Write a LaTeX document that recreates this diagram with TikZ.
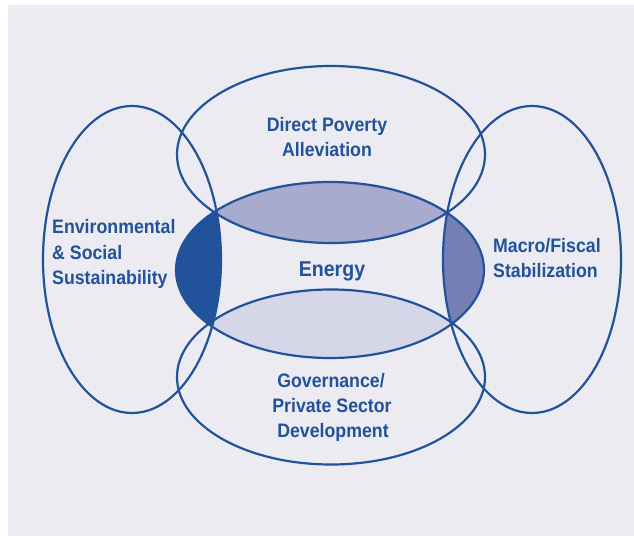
\documentclass[tikz,border=0pt]{standalone}
\usepackage{fontspec}
\newfontfamily\lblfont[FakeStretch=0.91]{Liberation Sans}
\definecolor{bgc}{HTML}{ECEBF2}
\definecolor{lineblue}{HTML}{22529A}
\definecolor{upperlens}{HTML}{A8AACE}
\definecolor{lowerlens}{HTML}{D5D7E9}
\definecolor{rightlens}{HTML}{7480B4}
\tikzset{
  outline/.style={draw=lineblue, line width=2.2bp},
  lbl/.style={text=lineblue, inner sep=0pt, font=\lblfont\bfseries\fontsize{19.5bp}{25bp}\selectfont},
  biglbl/.style={lbl, font=\lblfont\bfseries\fontsize{21.5bp}{25bp}\selectfont},
}
\def\pTop{(331,154.5) ellipse [x radius=154bp, y radius=88.5bp]}
\def\pEnergy{(330,270) ellipse [x radius=154bp, y radius=88bp]}
\def\pBottom{(331,377) ellipse [x radius=154bp, y radius=87.5bp]}
\def\pLeft{(132,259.5) ellipse [x radius=89bp, y radius=153.5bp]}
\def\pRight{(532,259.5) ellipse [x radius=89bp, y radius=153.5bp]}
\begin{document}
\begin{tikzpicture}[x=1bp,y=-1bp]
\useasboundingbox (0,0) rectangle (634,536);
\fill[white] (0,0) rectangle (634,536);
\fill[bgc] (8,5) rectangle (634,536);
% lens fills
\begin{scope}\clip \pEnergy; \fill[upperlens] \pTop; \end{scope}
\begin{scope}\clip \pEnergy; \fill[lowerlens] \pBottom; \end{scope}
\begin{scope}\clip \pEnergy; \fill[lineblue] \pLeft; \end{scope}
\begin{scope}\clip \pEnergy; \fill[rightlens] \pRight; \end{scope}
% outlines
\path[outline] \pTop;
\path[outline] \pBottom;
\path[outline] \pLeft;
\path[outline] \pRight;
\path[outline] \pEnergy;
% labels
\node[lbl, anchor=base] (dpa1) at (327,132) {Direct Poverty};
\node[lbl, anchor=base] (dpa2) at (327,157) {Alleviation};
\node[lbl, anchor=base] (gov1) at (331,387) {Governance/};
\node[lbl, anchor=base] (gov2) at (332,412) {Private Sector};
\node[lbl, anchor=base] (gov3) at (333,437) {Development};
\node[lbl, anchor=base west] (env1) at (52,234) {Environmental};
\node[lbl, anchor=base west] (env2) at (52,259) {\& Social};
\node[lbl, anchor=base west] (env3) at (52,284) {Sustainability};
\node[lbl, anchor=base west] (mac1) at (493,253) {Macro/Fiscal};
\node[lbl, anchor=base west] (mac2) at (493,277) {Stabilization};
\node[biglbl, anchor=base] (energy) at (332,276) {Energy};
\end{tikzpicture}
\end{document}
